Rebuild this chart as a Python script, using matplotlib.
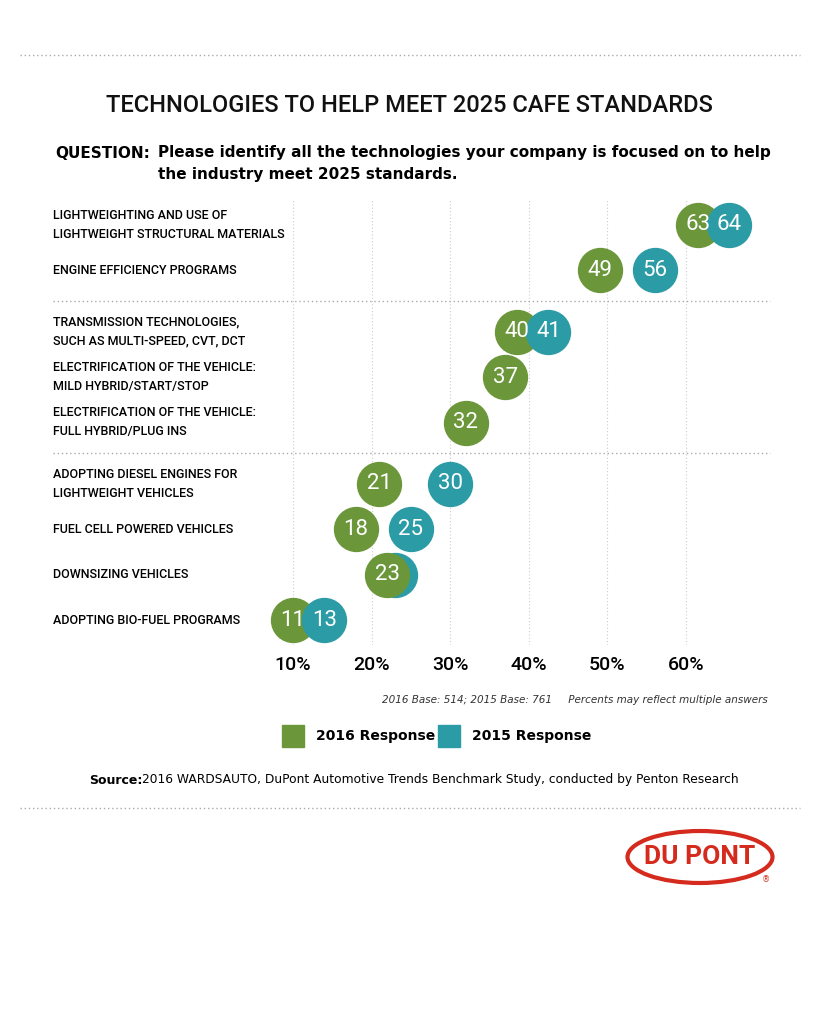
import matplotlib.pyplot as plt
from matplotlib.patches import Ellipse

techs = ["LIGHTWEIGHTING AND USE OF\nLIGHTWEIGHT STRUCTURAL MATERIALS",
         "ENGINE EFFICIENCY PROGRAMS",
         "TRANSMISSION TECHNOLOGIES,\nSUCH AS MULTI-SPEED, CVT, DCT",
         "ELECTRIFICATION OF THE VEHICLE:\nMILD HYBRID/START/STOP",
         "ELECTRIFICATION OF THE VEHICLE:\nFULL HYBRID/PLUG INS",
         "ADOPTING DIESEL ENGINES FOR\nLIGHTWEIGHT VEHICLES",
         "FUEL CELL POWERED VEHICLES",
         "DOWNSIZING VEHICLES",
         "ADOPTING BIO-FUEL PROGRAMS"]
groups = [0, 0, 1, 1, 1, 2, 2, 2, 2]
resp_2016 = [63, 49, 40, 37, 32, 21, 18, 23, 11]
resp_2015 = [64, 56, 41, None, None, 30, 25, 22, 13]
ticks = [10, 20, 30, 40, 50, 60]

green = "#6b973a"
teal = "#2b9ba6"
cond = ["Roboto", "DejaVu Sans"]

fig = plt.figure(figsize=(8.19, 10.24), dpi=100)
W, H = 819, 1024

def fx(px): return px / W
def fy(py): return 1 - py / H

for py in (55, 808):
    fig.add_artist(plt.Line2D([fx(20), fx(800)], [fy(py), fy(py)], color="#aaaaaa",
                              lw=1, ls=(0, (1, 2))))

fig.text(0.5, fy(105), "TECHNOLOGIES TO HELP MEET 2025 CAFE STANDARDS", ha="center",
         va="center", fontsize=17, family=cond, weight="medium", color="#111111")
fig.text(fx(55), fy(153), "QUESTION:", fontsize=11, weight="bold", va="center")
fig.text(fx(158), fy(153), "Please identify all the technologies your company is focused on to help",
         fontsize=11, weight="bold", va="center")
fig.text(fx(158), fy(174), "the industry meet 2025 standards.", fontsize=11, weight="bold", va="center")

ax = fig.add_axes([fx(260), fy(645), fx(770) - fx(260), (645 - 200) / H])
ax.set_xlim(10 - 33 / 7.86, 10 + 510 / 7.86 - 33 / 7.86)
ypos = [i + 0.35 * g for i, g in enumerate(groups)]
ax.set_ylim(ypos[-1] + 0.55, -0.55)
ax.axis("off")
for t in ticks:
    ax.axvline(t, color="#cccccc", lw=0.8, ls=(0, (1, 2)), zorder=0)
    ax.text(t, ypos[-1] + 1.0, f"{t}%", ha="center", va="center", fontsize=14,
            family=cond, weight="medium", clip_on=False)

for y, v16, v15 in zip(ypos, resp_2016, resp_2015):
    x16, x15 = v16, v15
    if v15 is not None and abs(v15 - v16) < 4:
        mid = (v15 + v16) / 2
        x16, x15 = mid - 2, mid + 2
        if v16 > v15:
            x16, x15 = mid - 0.5, mid + 0.5
    if v15 is not None:
        ax.scatter(x15, y, s=1000, color=teal, zorder=3, clip_on=False)
        ax.text(x15, y, str(v15), ha="center", va="center", color="white",
                fontsize=16, family=cond, zorder=4)
    top = 5 if (v15 is not None and v16 > v15) else 2
    ax.scatter(x16, y, s=1000, color=green, zorder=top, clip_on=False)
    ax.text(x16, y, str(v16), ha="center", va="center", color="white",
            fontsize=16, family=cond, zorder=top + 1)

for lab, y in zip(techs, ypos):
    yy = ax.transData.transform((0, y))[1] / fig.bbox.height
    fig.text(fx(53), yy, lab, fontsize=9, family=cond, weight="medium", va="center",
             linespacing=1.6)
for i in range(1, len(groups)):
    if groups[i] != groups[i - 1]:
        ym = (ypos[i] + ypos[i - 1]) / 2
        yy = ax.transData.transform((0, ym))[1] / fig.bbox.height
        fig.add_artist(plt.Line2D([fx(53), fx(770)], [yy, yy], color="#aaaaaa", lw=1,
                                  ls=(0, (1, 2))))

fig.text(fx(768), fy(700), "2016 Base: 514; 2015 Base: 761     Percents may reflect multiple answers",
         ha="right", va="center", fontsize=7.5, style="italic", color="#333333")
for px, lab, c in ((282, "2016 Response", green), (438, "2015 Response", teal)):
    fig.add_artist(plt.Rectangle((fx(px), fy(747)), 22 / W, 22 / H, color=c))
    fig.text(fx(px + 34), fy(736), lab, fontsize=10, weight="bold", va="center")
fig.text(fx(89), fy(780), "Source:", fontsize=9, weight="bold", va="center")
fig.text(fx(142), fy(780), "2016 WARDSAUTO, DuPont Automotive Trends Benchmark Study, conducted by Penton Research",
         fontsize=8.8, va="center")

red = "#d52b1e"
fig.add_artist(Ellipse((fx(700), fy(857)), 145 / W, 52 / H, fill=False, ec=red, lw=3))
fig.text(fx(700), fy(857), "DU PONT", ha="center", va="center", fontsize=19, color=red,
         weight="bold", family=cond)
fig.text(fx(766), fy(880), "®", ha="center", va="center", fontsize=6, color=red)

fig.savefig("out.png", dpi=100, facecolor="white")
